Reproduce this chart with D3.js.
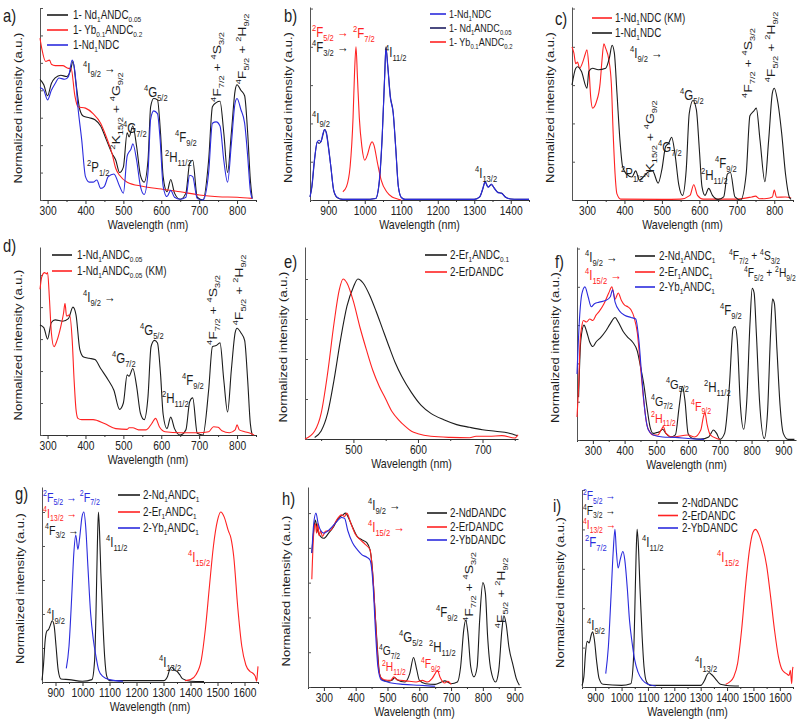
<!DOCTYPE html>
<html>
<head>
<meta charset="utf-8">
<script src="https://cdn.jsdelivr.net/npm/d3@7"></script>
<style>
  body { margin: 0; background: #fff; }
  text { font-family: "Liberation Sans", Arial, sans-serif; white-space: pre; }
</style>
</head>
<body>
<svg id="fig" width="800" height="725"></svg>
<script>
// ---- data: [wavelength nm, normalized intensity] ----

// a) excitation
var aNdANDC = [[280,.88],[290,.84],[300,.76],[310,.85],[320,.89],[335,.91],[350,.90],[360,.94],[367,1.01],[375,.85],[385,.66],[395,.61],[410,.60],[425,.585],[440,.54],[455,.44],[470,.34],[480,.29],[490,.20],[500,.24],[510,.49],[515,.46],[525,.54],[535,.39],[545,.18],[555,.13],[565,.29],[572,.68],[580,.74],[590,.73],[598,.49],[605,.17],[615,.06],[625,.15],[635,.05],[650,.005],[665,.05],[675,.27],[683,.29],[695,.02],[710,0],[725,.29],[735,.68],[745,.71],[755,.72],[765,.49],[775,.20],[785,.49],[795,.80],[800,.84],[810,.80],[820,.76],[828,.49],[835,.15],[840,.01]];
var aYbANDC = [[280,1.18],[285,1.10],[295,1.01],[305,1.02],[310,.99],[320,.98],[340,.98],[355,.96],[362,.96],[372,.76],[380,.68],[400,.67],[420,.63],[440,.56],[455,.46],[470,.34],[480,.23],[490,.18],[510,.13],[550,.10],[600,.08],[650,.06],[700,.037],[750,.024],[800,.02],[840,.012]];
var aNdNDC = [[280,.82],[290,.80],[300,.73],[310,.80],[320,.85],[330,.89],[345,.88],[355,.90],[365,1.02],[372,.94],[380,.68],[390,.44],[400,.17],[410,.13],[420,.13],[430,.146],[440,.085],[450,.10],[460,.17],[475,.19],[490,.10],[500,.05],[510,.32],[515,.35],[520,.37],[525,.41],[535,.29],[545,.10],[555,.04],[565,.20],[572,.59],[580,.65],[590,.63],[597,.44],[605,.10],[615,.025],[625,.07],[635,.02],[650,.005],[665,.02],[675,.18],[683,.17],[695,.01],[710,0],[725,.20],[735,.56],[745,.57],[755,.54],[765,.29],[775,.13],[785,.41],[795,.71],[800,.74],[810,.66],[820,.56],[828,.32],[835,.07],[840,.01]];

// b) NIR emission
var bNdNDC = [[850,.02],[855,.09],[862,.26],[870,.38],[875,.39],[880,.38],[885,.43],[890,.46],[895,.43],[900,.35],[907,.22],[915,.065],[925,.017],[940,.004],[1000,.004],[1030,.01],[1040,.13],[1048,.43],[1055,.83],[1058,.99],[1063,.87],[1070,.67],[1078,.565],[1085,.33],[1092,.087],[1100,.017],[1110,.004],[1300,.004],[1315,.02],[1322,.065],[1330,.12],[1338,.083],[1347,.104],[1355,.076],[1365,.048],[1375,.043],[1385,.02],[1400,.007],[1450,.004]];
var bNdANDC = [[850,.02],[855,.08],[862,.25],[870,.38],[875,.37],[880,.38],[885,.42],[890,.46],[895,.44],[900,.36],[907,.22],[915,.06],[925,.015],[940,.004],[1000,.004],[1030,.01],[1040,.12],[1048,.42],[1055,.84],[1058,1.0],[1063,.88],[1070,.68],[1078,.57],[1085,.34],[1092,.09],[1100,.017],[1110,.004],[1300,.004],[1315,.02],[1322,.06],[1330,.115],[1338,.085],[1347,.10],[1355,.078],[1365,.05],[1375,.045],[1385,.02],[1400,.007],[1450,.004]];
var bYbANDC = [[940,.054],[950,.087],[960,.22],[968,.54],[972,.83],[976,1.0],[980,.80],[985,.54],[992,.35],[1000,.26],[1008,.30],[1015,.36],[1020,.38],[1025,.36],[1035,.24],[1045,.13],[1060,.054],[1075,.02],[1090,.007],[1100,0]];

// c) excitation vs Kubelka-Munk
var cNdNDCkm = [[260,1.0],[265,.96],[270,.89],[275,.90],[280,.86],[290,.91],[295,.95],[300,.98],[305,.87],[310,.67],[315,.60],[325,.64],[335,.76],[340,.91],[345,1.02],[350,.99],[358,.92],[365,.76],[370,.43],[375,.17],[380,.04],[390,.006],[500,.004],[550,.006],[575,.03],[585,.10],[595,.03],[610,.006],[700,.006],[740,.02],[750,.025],[760,.008],[780,.01],[795,.02],[800,.065],[806,.018],[830,.02],[845,.013]];
var cNdNDC = [[260,.75],[270,.86],[275,.87],[285,.84],[300,.73],[305,.84],[315,.86],[330,.85],[350,.86],[360,.93],[367,1.01],[373,.96],[380,.70],[388,.39],[395,.22],[405,.17],[420,.15],[430,.19],[440,.13],[450,.15],[465,.185],[475,.19],[490,.11],[500,.20],[510,.35],[518,.37],[526,.41],[535,.30],[545,.10],[555,.03],[565,.20],[573,.565],[583,.65],[592,.59],[600,.33],[607,.087],[615,.03],[625,.076],[635,.03],[650,.004],[665,.02],[675,.17],[683,.18],[695,.02],[710,0],[725,.17],[735,.55],[745,.58],[752,.60],[762,.39],[775,.12],[785,.39],[795,.70],[800,.73],[810,.63],[820,.43],[830,.17],[840,.02],[845,.004]];

// d) excitation vs Kubelka-Munk
var dNdANDC = [[280,.86],[290,.84],[300,.75],[310,.88],[320,.90],[340,.89],[355,.91],[367,1.0],[375,.94],[385,.67],[395,.61],[410,.60],[425,.59],[440,.52],[460,.43],[475,.35],[490,.20],[500,.25],[510,.47],[515,.46],[525,.52],[535,.38],[545,.17],[555,.12],[565,.30],[573,.69],[582,.74],[590,.72],[598,.48],[605,.16],[615,.05],[625,.14],[635,.05],[650,0],[665,.04],[675,.26],[683,.29],[695,.013],[710,0],[725,.35],[735,.69],[745,.70],[755,.72],[765,.43],[775,.18],[785,.51],[795,.80],[800,.835],[810,.80],[820,.74],[828,.43],[835,.09],[840,0]];
var dNdANDCkm = [[280,1.14],[285,1.24],[292,1.27],[297,1.26],[300,1.27],[305,1.06],[310,.80],[317,.69],[325,.74],[335,.85],[342,.95],[346,1.03],[350,.93],[358,.94],[365,.74],[370,.43],[375,.20],[380,.13],[390,.12],[420,.12],[450,.09],[480,.05],[510,.044],[515,.057],[525,.057],[540,.04],[560,.04],[575,.09],[585,.13],[595,.065],[610,.026],[650,.018],[700,.018],[725,.026],[738,.065],[750,.06],[760,.034],[780,.018],[795,.04],[800,.08],[806,.04],[820,.026],[835,.013],[845,0]];

// e) ligand emission
var eEr1ANDC = [[440,.01],[450,.05],[460,.16],[470,.37],[480,.62],[490,.83],[500,.95],[507,1.0],[515,.975],[525,.90],[535,.80],[545,.69],[555,.58],[565,.475],[575,.39],[590,.29],[605,.21],[620,.16],[640,.12],[660,.09],[680,.073],[700,.058],[720,.048],[740,.038],[755,.02]];
var eErDANDC = [[425,0],[440,.05],[450,.16],[460,.41],[470,.725],[478,.93],[484,1.0],[490,.975],[500,.86],[510,.70],[520,.56],[530,.43],[540,.33],[550,.25],[560,.17],[570,.12],[580,.08],[590,.048],[600,.033],[620,.017],[650,.01],[680,.008],[690,.017],[710,.017],[730,.021],[750,.006],[755,.027]];

// f) excitation of 2-Ln1ANDC1
var fNd = [[255,.28],[262,.65],[272,.75],[280,.71],[290,.64],[300,.61],[310,.64],[325,.67],[340,.71],[355,.76],[370,.80],[380,.77],[395,.71],[410,.67],[425,.64],[440,.58],[450,.48],[460,.37],[470,.22],[480,.087],[490,.043],[500,.048],[510,.054],[520,.07],[530,.043],[545,.02],[560,.033],[572,.22],[582,.35],[590,.26],[600,.043],[615,.01],[640,.006],[665,.02],[680,.065],[690,.043],[700,.004],[715,.043],[730,.35],[742,.73],[748,.74],[755,.65],[765,.22],[775,.07],[785,.26],[795,.76],[802,.99],[808,.96],[815,.70],[825,.26],[840,.01],[850,.17],[860,.70],[866,.92],[872,.89],[880,.59],[890,.22],[900,.043],[915,.004],[935,.004]];
var fEr = [[250,.15],[255,.35],[260,.65],[265,.74],[270,.78],[280,.77],[290,.79],[300,.78],[310,.815],[320,.84],[335,.89],[350,.96],[360,1.0],[370,.92],[380,.96],[390,.91],[400,.88],[410,.87],[420,.85],[430,.80],[440,.70],[450,.48],[460,.26],[470,.10],[480,.05],[490,.033],[505,.033],[515,.065],[522,.087],[530,.043],[550,.02],[600,.033],[620,.02],[640,.065],[648,.15],[653,.18],[660,.10],[670,.033],[690,.01],[700,.004]];
var fYb = [[250,.43],[257,.76],[265,.95],[275,1.0],[285,.935],[295,.87],[305,.89],[320,.90],[340,.91],[355,.935],[362,.98],[370,.90],[385,.84],[400,.815],[420,.80],[435,.79],[445,.65],[455,.39],[465,.17],[475,.065],[490,.033],[520,.02],[560,.017],[600,.01],[650,.004]];

// g) NIR emission of 2-Ln1ANDC1
var gNd = [[850,.01],[855,.09],[862,.25],[868,.30],[875,.31],[880,.33],[888,.36],[895,.33],[902,.21],[910,.07],[920,.018],[950,.014],[1000,.004],[1035,.014],[1045,.13],[1050,.41],[1055,.80],[1059,1.0],[1063,.89],[1068,.64],[1075,.37],[1082,.15],[1090,.033],[1100,.008],[1300,.008],[1315,.033],[1322,.07],[1330,.088],[1340,.07],[1350,.063],[1360,.043],[1370,.02],[1400,.004],[1450,.002]];
var gEr = [[1380,.008],[1400,.014],[1420,.043],[1440,.13],[1455,.31],[1470,.56],[1485,.80],[1500,.95],[1512,1.0],[1525,.97],[1540,.89],[1550,.845],[1560,.74],[1575,.44],[1590,.21],[1605,.10],[1620,.063],[1630,.053],[1640,.033],[1645,.004],[1648,.053],[1650,.092]];
var gYb = [[940,.08],[950,.21],[960,.50],[968,.76],[975,.865],[983,.78],[990,.855],[998,.97],[1005,1.0],[1012,.91],[1020,.68],[1030,.405],[1040,.25],[1050,.15],[1060,.07],[1075,.033],[1100,.014],[1150,.004]];

// h) excitation of 2-LnDANDC
var hNd = [[262,.77],[268,.90],[273,.96],[280,.90],[290,.865],[300,.855],[315,.885],[330,.92],[345,.97],[360,.99],[368,1.0],[378,.97],[390,.92],[405,.865],[420,.846],[435,.83],[445,.79],[452,.69],[460,.46],[468,.23],[475,.077],[485,.04],[500,.033],[515,.04],[522,.054],[530,.042],[555,.029],[570,.077],[582,.17],[592,.10],[600,.04],[620,.019],[650,.015],[670,.029],[680,.035],[700,.019],[720,.029],[730,.115],[740,.33],[746,.385],[753,.31],[762,.115],[772,.058],[782,.115],[790,.385],[800,.60],[808,.54],[815,.29],[825,.10],[840,.029],[850,.096],[860,.33],[866,.41],[873,.365],[882,.23],[895,.125],[905,.05],[915,.01]];
var hEr = [[262,.62],[268,.885],[273,.94],[277,.885],[281,.94],[285,.87],[290,.90],[295,.865],[305,.895],[320,.90],[340,.96],[355,.99],[365,.98],[372,1.0],[385,.94],[400,.875],[415,.846],[430,.82],[445,.79],[455,.615],[463,.365],[470,.15],[478,.058],[490,.042],[510,.038],[520,.058],[530,.042],[560,.035],[590,.029],[610,.038],[625,.029],[640,.048],[650,.077],[657,.096],[665,.058],[680,.023],[690,.033],[700,.015]];
var hYb = [[262,.77],[268,.94],[275,1.0],[282,.94],[290,.90],[300,.885],[320,.91],[340,.95],[355,.975],[365,.97],[375,.90],[390,.83],[405,.79],[420,.76],[435,.746],[445,.73],[455,.577],[462,.33],[470,.115],[480,.042],[500,.029],[550,.015],[600,.01],[650,.004]];

// i) NIR emission of 2-LnDANDC
var iNd = [[850,.01],[857,.064],[864,.23],[870,.29],[877,.28],[885,.33],[890,.35],[897,.30],[905,.17],[915,.053],[930,.017],[1000,.01],[1035,.021],[1045,.17],[1050,.47],[1055,.83],[1059,1.0],[1064,.89],[1070,.62],[1078,.32],[1085,.13],[1095,.032],[1110,.01],[1300,.01],[1315,.043],[1323,.074],[1332,.09],[1340,.081],[1350,.064],[1360,.043],[1375,.017],[1400,.01],[1445,.006]];
var iEr = [[1395,.017],[1410,.032],[1425,.064],[1440,.15],[1455,.36],[1470,.64],[1485,.87],[1498,.98],[1508,1.0],[1520,.97],[1535,.89],[1550,.77],[1565,.575],[1580,.36],[1595,.19],[1610,.106],[1625,.085],[1635,.074],[1640,.106],[1645,.021],[1648,.106],[1650,.128]];
var iYb = [[940,.085],[950,.255],[960,.575],[968,.85],[975,1.0],[980,.87],[987,.755],[995,.81],[1005,.86],[1012,.81],[1022,.62],[1030,.425],[1040,.28],[1050,.17],[1062,.096],[1080,.043],[1100,.017],[1130,.006]];

// tick labels
var ticksUV = [300, 400, 500, 600, 700, 800];
var ticksUV9 = [300, 400, 500, 600, 700, 800, 900];
var ticksNIR = [900, 1000, 1100, 1200, 1300, 1400];
var ticksNIR16 = [900, 1000, 1100, 1200, 1300, 1400, 1500, 1600];
var ticksVis = [500, 600, 700];

var K = '#1c1c1c', R = '#ff2222', B = '#2b2bdd', NAVY = '#1e1e60';
var SX = 0.82; // text in the figure is horizontally squeezed

var panels = [
  { tag: 'a)', tagPos: [3, 22], x: [280, 850], xr: [40, 256], y: [0, 1.4], yr: [200, 8], yStep: 0.2, xt: ticksUV, minor: 50,
    series: [[aNdANDC, K], [aYbANDC, R], [aNdNDC, B]],
    legend: { lx: [47, 68], tx: 73, ys: [15, 30, 45], items: [['1- Nd_{1}ANDC_{0.05}', K], ['1- Yb_{0.1}ANDC_{0.2}', R], ['1-Nd_{1}NDC', B]] },
    notes: [['^{4}I_{9/2} →', 83, 68], ['^{2}P_{1/2}', 87, 167], ['^{2}K_{15/2} + ^{4}G_{9/2}', 116, 111, 1], ['^{4}G_{7/2}', 123, 128], ['^{4}G_{5/2}', 144, 92],
            ['^{2}H_{11/2}', 165, 157], ['^{4}F_{9/2}', 175, 137], ['^{4}F_{7/2} + ^{4}S_{3/2}', 217, 67, 1], ['^{4}F_{5/2} + ^{2}H_{9/2}', 242, 49, 1]] },
  { tag: 'b)', tagPos: [284, 22], x: [850, 1450], xr: [310, 529], y: [0, 1.26], yr: [200, 7], yStep: 0.25, xt: ticksNIR, minor: 50,
    series: [[bNdANDC, NAVY], [bYbANDC, R], [bNdNDC, B]],
    legend: { lx: [430, 446], tx: 449, ys: [14, 28, 42], size: 11, items: [['1-Nd_{1}NDC', B], ['1- Nd_{1}ANDC_{0.05}', NAVY], ['1- Yb_{0.1}ANDC_{0.2}', R]] },
    notes: [['^{2}F_{5/2} →', 312, 32, 0, R], ['^{4}F_{3/2} →', 312, 47], ['^{2}F_{7/2}', 353, 33, 0, R], ['^{4}I_{11/2}', 385, 52], ['^{4}I_{9/2}', 312, 118], ['^{4}I_{13/2}', 475, 173]] },
  { tag: 'c)', tagPos: [555, 25], x: [260, 850], xr: [572, 793], y: [0, 1.26], yr: [200, 7], yStep: 0.25, xt: ticksUV, minor: 50,
    series: [[cNdNDCkm, R], [cNdNDC, K]],
    legend: { lx: [592, 612], tx: 615, ys: [18, 33], items: [['1-Nd_{1}NDC (KM)', R], ['1-Nd_{1}NDC', K]] },
    notes: [['^{4}I_{9/2} →', 630, 53], ['^{2}P_{1/2}', 621, 173], ['^{2}K_{15/2} + ^{4}G_{9/2}', 650, 139, 1], ['^{4}G_{7/2}', 658, 147], ['^{4}G_{5/2}', 680, 95],
            ['^{2}H_{11/2}', 701, 175], ['^{4}F_{9/2}', 715, 163], ['^{4}F_{7/2} + ^{4}S_{3/2}', 748, 63, 1], ['^{4}F_{5/2} + ^{2}H_{9/2}', 771, 47, 1]] },
  { tag: 'd)', tagPos: [3, 252], x: [280, 850], xr: [40, 256], y: [0, 1.47], yr: [435, 247], yStep: 0.25, xt: ticksUV, minor: 50,
    series: [[dNdANDC, K], [dNdANDCkm, R]],
    legend: { lx: [52, 72], tx: 77, ys: [255, 271], items: [['1-Nd_{1}ANDC_{0.05}', K], ['1-Nd_{1}ANDC_{0.05} (KM)', R]] },
    notes: [['^{4}I_{9/2} →', 83, 297], ['^{4}G_{7/2}', 112, 358], ['^{4}G_{5/2}', 140, 330], ['^{2}H_{11/2}', 162, 398], ['^{4}F_{9/2}', 182, 380],
            ['^{4}F_{7/2} + ^{4}S_{3/2}', 213, 310, 1], ['^{4}F_{5/2} + ^{2}H_{9/2}', 239, 290, 1]] },
  { tag: 'e)', tagPos: [284, 268], x: [425, 755], xr: [305, 518], y: [0, 1.2], yr: [439, 247], yStep: 0.25, xt: ticksVis, minor: 50,
    series: [[eEr1ANDC, K], [eErDANDC, R]],
    legend: { lx: [425, 447], tx: 450, ys: [255, 272], items: [['2-Er_{1}ANDC_{0.1}', K], ['2-ErDANDC', R]] },
    notes: [] },
  { tag: 'f)', tagPos: [555, 268], x: [250, 940], xr: [577, 796], y: [0, 1.26], yr: [440, 247], yStep: 0.25, xt: ticksUV9, minor: 50,
    series: [[fNd, K], [fEr, R], [fYb, B]],
    legend: { lx: [635, 655], tx: 659, ys: [256, 272, 287], items: [['2-Nd_{1}ANDC_{1}', K], ['2-Er_{1}ANDC_{1}', R], ['2-Yb_{1}ANDC_{1}', B]] },
    notes: [['^{4}I_{9/2} →', 585, 257], ['^{4}I_{15/2} →', 585, 275, 0, R], ['^{4}F_{7/2} + ^{4}S_{3/2}', 729, 256, 0, K, 12.5], ['^{4}F_{5/2} + ^{2}H_{9/2}', 744, 273, 0, K, 12.5],
            ['^{4}F_{9/2}', 720, 310], ['^{4}G_{5/2}', 666, 384, 0, K, 13.5], ['^{2}H_{11/2}', 704, 387], ['^{4}G_{7/2}', 651, 401, 0, K, 13], ['^{2}H_{11/2}', 651, 418, 0, R, 13], ['^{4}F_{9/2}', 691, 406, 0, R, 13]] },
  { tag: 'g)', tagPos: [15, 500], x: [850, 1650], xr: [42, 258], y: [0, 1.147], yr: [682, 487], yStep: 0.2, xt: ticksNIR16, minor: 50,
    series: [[gNd, K], [gEr, R], [gYb, B]],
    legend: { lx: [118, 140], tx: 143, ys: [495, 512, 528], items: [['2-Nd_{1}ANDC_{1}', K], ['2-Er_{1}ANDC_{1}', R], ['2-Yb_{1}ANDC_{1}', B]] },
    notes: [['^{2}F_{5/2} → ^{2}F_{7/2}', 43, 497, 0, B, 13], ['^{4}I_{13/2} →', 43, 513, 0, R, 13], ['^{4}F_{3/2} →', 45, 530, 0, K, 13], ['^{4}I_{11/2}', 106, 542],
            ['^{4}I_{15/2}', 188, 557, 0, R], ['^{4}I_{9/2}', 47, 615], ['^{4}I_{13/2}', 159, 662]] },
  { tag: 'h)', tagPos: [282, 505], x: [250, 920], xr: [308, 521], y: [0, 1.15], yr: [687, 487], yStep: 0.2, xt: ticksUV9, minor: 50,
    series: [[hNd, K], [hEr, R], [hYb, B]],
    legend: { lx: [427, 447], tx: 450, ys: [513, 527, 540], items: [['2-NdDANDC', K], ['2-ErDANDC', R], ['2-YbDANDC', B]] },
    notes: [['^{4}I_{9/2} →', 368, 505], ['^{4}I_{15/2} →', 368, 527, 0, R], ['^{4}F_{9/2}', 436, 612], ['^{4}F_{7/2} + ^{4}S_{3/2}', 469, 587, 1], ['^{4}F_{5/2} + ^{2}H_{9/2}', 501, 593, 1],
            ['^{4}G_{5/2}', 399, 637], ['^{2}H_{11/2}', 429, 647], ['^{4}G_{7/2}', 379, 651, 0, K, 12.5], ['^{2}H_{11/2}', 382, 667, 0, R, 12.5], ['^{4}F_{9/2}', 421, 664, 0, R, 12.5]] },
  { tag: 'i)', tagPos: [553, 512], x: [850, 1650], xr: [582, 793], y: [0, 1.25], yr: [687, 490], yStep: 0.25, xt: ticksNIR16, minor: 50,
    series: [[iNd, K], [iEr, R], [iYb, B]],
    legend: { lx: [658, 678], tx: 682, ys: [503, 515.5, 528], items: [['2-NdDANDC', K], ['2-ErDANDC', R], ['2-YbDANDC', B]] },
    notes: [['^{2}F_{5/2} →', 583, 496, 0, B, 12.5], ['^{4}F_{3/2} →', 583, 510.5, 0, K, 12.5], ['^{4}I_{13/2} →', 583, 525, 0, R, 12.5], ['^{2}F_{7/2}', 585, 542, 0, B],
            ['^{4}I_{11/2}', 642, 542], ['^{4}I_{15/2}', 717, 557, 0, R], ['^{4}I_{9/2}', 587, 625], ['^{4}I_{13/2}', 695, 663]] }
];

var svg = d3.select('#fig');

// write "^{sup}" / "_{sub}" markup into tspans
function rich(text, str, size) {
  var re = /\^\{([^}]*)\}|_\{([^}]*)\}|([^^_]+)/g, m, off = 0;
  while ((m = re.exec(str))) {
    var target = 0, txt = m[3], fs = size;
    if (m[1] !== undefined) { target = -0.42 * size; txt = m[1]; fs = size * 0.66; }
    else if (m[2] !== undefined) { target = 0.26 * size; txt = m[2]; fs = size * 0.66; }
    text.append('tspan').attr('dy', target - off).attr('font-size', fs).text(txt);
    off = target;
  }
}

// squeezed text; (x, y) is left / vertical centre, or centre for rotated labels
function label(g, str, x, y, opt) {
  opt = opt || {};
  var fs = opt.size || 12.5;
  var t;
  if (opt.rot) {
    t = g.append('g').attr('transform', 'translate(' + (x + 0.35 * fs * SX) + ',' + y + ') scale(' + SX + ',1) rotate(-90)')
      .append('text').attr('text-anchor', 'middle');
  } else {
    t = g.append('g').attr('transform', 'translate(' + x + ',' + (y + 0.35 * fs) + ') scale(' + SX + ',1)')
      .append('text').attr('text-anchor', opt.anchor || 'start');
  }
  t.attr('font-size', fs).attr('fill', opt.color || K);
  rich(t, str, fs);
  return t;
}

function drawPanel(p) {
  var x = d3.scaleLinear().domain(p.x).range(p.xr);
  var y = d3.scaleLinear().domain(p.y).range(p.yr);
  var g = svg.append('g');

  // minor x ticks
  var minors = d3.range(p.xt[0] - p.minor, p.x[1] + 1, p.minor * 2).filter(function(v) { return v >= p.x[0] && v <= p.x[1]; });
  g.append('g').attr('transform', 'translate(0,' + p.yr[0] + ')')
    .call(d3.axisBottom(x).tickValues(minors).tickSize(2).tickSizeOuter(0).tickFormat(''))
    .call(function(s) { s.select('.domain').remove(); s.selectAll('line').attr('stroke', '#333'); });

  var xa = g.append('g').attr('transform', 'translate(0,' + p.yr[0] + ')')
    .call(d3.axisBottom(x).tickValues(p.xt).tickSize(4).tickSizeOuter(0).tickPadding(2).tickFormat(d3.format('d')));
  xa.select('.domain').attr('stroke', '#333');
  xa.selectAll('line').attr('stroke', '#333');
  xa.selectAll('text').attr('font-size', 12.5).attr('fill', '#222')
    .attr('font-family', '"Liberation Sans", Arial, sans-serif').attr('transform', 'scale(' + SX + ',1)');

  var yt = d3.range(0, p.y[1] + 1e-9, p.yStep);
  var ya = g.append('g').attr('transform', 'translate(' + p.xr[0] + ',0)')
    .call(d3.axisLeft(y).tickValues(yt).tickSize(-3).tickSizeOuter(0).tickFormat(''));
  ya.select('.domain').attr('stroke', '#555');
  ya.selectAll('line').attr('stroke', '#555');

  // axis titles
  var cx = (p.xr[0] + p.xr[1]) / 2;
  label(g, 'Wavelength (nm)', cx, p.yr[0] + 24, { anchor: 'middle', size: 13 });
  label(g, 'Normalized intensity (a.u.)', p.xr[0] - 22, (p.yr[0] + p.yr[1]) / 2 + 4, { rot: 1, size: 13 });

  // spectra
  var line = d3.line().x(function(d) { return x(d[0]); }).y(function(d) { return y(d[1]); }).curve(d3.curveMonotoneX);
  p.series.forEach(function(s) {
    g.append('path').datum(s[0]).attr('d', line).attr('fill', 'none')
      .attr('stroke', s[1]).attr('stroke-width', 1.1).attr('stroke-linejoin', 'round');
  });

  // legend
  var L = p.legend;
  L.items.forEach(function(it, i) {
    g.append('line').attr('x1', L.lx[0]).attr('x2', L.lx[1]).attr('y1', L.ys[i]).attr('y2', L.ys[i])
      .attr('stroke', it[1]).attr('stroke-width', 1.6);
    label(g, it[0], L.tx, L.ys[i], { size: L.size || 12 });
  });

  // transition labels
  p.notes.forEach(function(n) {
    label(g, n[0], n[1], n[2], { rot: n[3], color: n[4] || K, size: n[5] || 14 });
  });

  label(g, p.tag, p.tagPos[0], p.tagPos[1] - 6, { size: 18 });
}

panels.forEach(drawPanel);
</script>
</body>
</html>
